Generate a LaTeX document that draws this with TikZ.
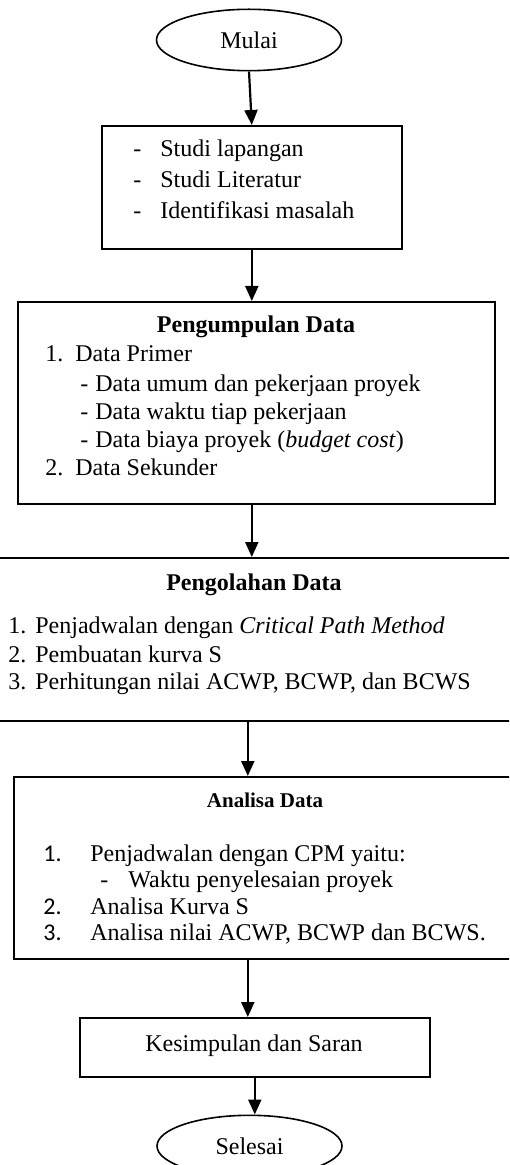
\documentclass[tikz,border=0pt]{standalone}
\usepackage{fontspec}
\setmainfont{Liberation Serif}
\newfontfamily\calfont{Carlito}
\usetikzlibrary{shapes.geometric,arrows.meta}
\begin{document}
\begin{tikzpicture}[x=0.5pt,y=-0.5pt,
  box/.style={draw,line width=0.8pt,rectangle,inner sep=0pt,anchor=north west},
  oval/.style={draw,line width=0.8pt,ellipse,inner sep=0pt,minimum width=92.5pt,minimum height=30.7pt,font=\fontsize{12}{14}\selectfont},
  arr/.style={line width=1.1pt,-{Triangle[width=6.5pt,length=7.5pt]}},
  txt/.style={anchor=base west,inner sep=0pt,font=\fontsize{12}{14}\selectfont},
  num/.style={anchor=base west,inner sep=0pt,font=\fontsize{12}{14}\selectfont\calfont},
  ttl/.style={anchor=base,inner sep=0pt,font=\fontsize{12}{14}\selectfont\bfseries},
  ttls/.style={anchor=base,inner sep=0pt,font=\fontsize{10.5}{12}\selectfont\bfseries},
]
\path[use as bounding box] (0,0) rectangle (509,1165);
\clip (0,0) rectangle (509,1165);

% shapes
\node[oval] (m) at (249,40) {Mulai};
\node[box,minimum width=150pt,minimum height=61.5pt] (b1) at (101,125) {};
\node[box,minimum width=238.5pt,minimum height=101pt] (b2) at (17,301) {};
\node[box,minimum width=267pt,minimum height=81.5pt] (b3) at (-20,557) {};
\node[box,minimum width=258.5pt,minimum height=91pt] (b4) at (13,776) {};
\node[box,minimum width=175pt,minimum height=29.5pt] (b5) at (79,1017) {};
\node[anchor=base,inner sep=0pt,font=\fontsize{12}{14}\selectfont] (t5) at (254,1051) {Kesimpulan dan Saran};
\node[oval] (s) at (249.5,1146) {Selesai};

% box 1 text
\node[txt] (d11) at (133,157) {-};
\node[txt] (t11) at (160,157) {Studi lapangan};
\node[txt] (d12) at (133,188) {-};
\node[txt] (t12) at (160,188) {Studi Literatur};
\node[txt] (d13) at (133,219) {-};
\node[txt] (t13) at (160,219) {Identifikasi masalah};

% box 2 text
\node[ttl] (h2) at (256,333) {Pengumpulan Data};
\node[txt] (n21) at (45,362) {1.};
\node[txt] (t21) at (75,362) {Data Primer};
\node[txt] (d22) at (80,392) {-};
\node[txt] (t22) at (95,392) {Data umum dan pekerjaan proyek};
\node[txt] (d23) at (80,420) {-};
\node[txt] (t23) at (95,420) {Data waktu tiap pekerjaan};
\node[txt] (d24) at (80,447) {-};
\node[txt] (t24) at (95,447) {Data biaya proyek (\textit{budget cost})};
\node[txt] (n25) at (45,475) {2.};
\node[txt] (t25) at (75,475) {Data Sekunder};

% box 3 text
\node[ttl] (h3) at (254,590) {Pengolahan Data};
\node[txt] (n31) at (8,633) {1.};
\node[txt] (t31) at (35,633) {Penjadwalan dengan \textit{Critical Path Method}};
\node[txt] (n32) at (8,662) {2.};
\node[txt] (t32) at (35,662) {Pembuatan kurva S};
\node[txt] (n33) at (8,689) {3.};
\node[txt] (t33) at (35,689) {Perhitungan nilai ACWP, BCWP, dan BCWS};

% box 4 text
\node[ttls] (h4) at (265,807) {Analisa Data};
\node[num] (n41) at (43,861) {1.};
\node[txt] (t41) at (90,861) {Penjadwalan dengan CPM yaitu:};
\node[txt] (d42) at (100,887) {-};
\node[txt] (t42) at (128,887) {Waktu penyelesaian proyek};
\node[num] (n43) at (43,914) {2.};
\node[txt] (t43) at (90,914) {Analisa Kurva S};
\node[num] (n44) at (43,940) {3.};
\node[txt] (t44) at (90,940) {Analisa nilai ACWP, BCWP dan BCWS.};

% connectors
\draw[arr] (m.south) -- (b1.north);
\draw[arr] (b1.south) -- (b1.south |- b2.north);
\draw[arr] (b1.south |- b2.south) -- (b1.south |- b3.north);
\draw[arr] (b3.south) -- (b3.south |- b4.north);
\draw[arr] (b3.south |- b4.south) -- (b3.south |- b5.north);
\draw[arr] (b5.south) -- (b5.south |- s.north);
\end{tikzpicture}
\end{document}
